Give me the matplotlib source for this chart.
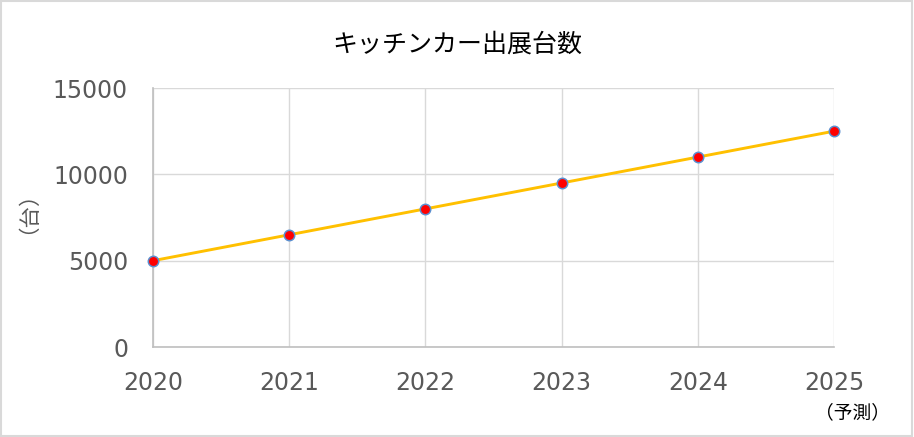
import matplotlib.pyplot as plt
from matplotlib.patches import Rectangle

plt.rcParams['font.family'] = ['Noto Sans CJK JP', 'DejaVu Sans']

years = [2020, 2021, 2022, 2023, 2024, 2025]
counts = [5000, 6500, 8000, 9500, 11000, 12500]
y_ticks = [0, 5000, 10000, 15000]

fig = plt.figure(figsize=(9.14, 4.37), dpi=100)
ax = fig.add_axes([0.1674, 0.2059, 0.7451, 0.5927])

ax.plot(years, counts, color="#FFC000", linewidth=2.1, marker="o",
        markersize=7.5, markerfacecolor="#FF0000", markeredgecolor="#5B8FD0",
        markeredgewidth=1.1, zorder=3, clip_on=False)

ax.set_xlim(years[0], years[-1])
ax.set_ylim(0, 15000)
ax.set_xticks(years)
ax.set_yticks(y_ticks)
ax.grid(True, color="#D9D9D9", linewidth=1.0)
ax.set_axisbelow(True)

for side in ["top", "right"]:
    ax.spines[side].set_visible(False)
for side in ["left", "bottom"]:
    ax.spines[side].set_color("#BFBFBF")
    ax.spines[side].set_linewidth(1.2)

ax.tick_params(axis="both", length=0, labelsize=17, colors="#595959")
ax.tick_params(axis="x", pad=17)
ax.tick_params(axis="y", pad=18)
for lbl in ax.get_xticklabels() + ax.get_yticklabels():
    lbl.set_fontfamily("DejaVu Sans")

ax.set_ylabel("（台）", fontsize=15.5, color="#595959", va="center")
ax.yaxis.set_label_coords(-0.2, 0.56)
fig.text(0.5, 1 - 45 / 437, "キッチンカー出展台数", fontsize=18, color="#000000",
         ha="center", va="center")

fig.text(852 / 914, 1 - 413 / 437, "（予測）", fontsize=13.5, color="#000000",
         ha="center", va="center")

fig.patches.append(Rectangle((0.001, 0.002), 0.997, 0.995, transform=fig.transFigure,
                             fill=False, edgecolor="#D9D9D9", linewidth=1.5))

fig.savefig("out.png", dpi=100)
